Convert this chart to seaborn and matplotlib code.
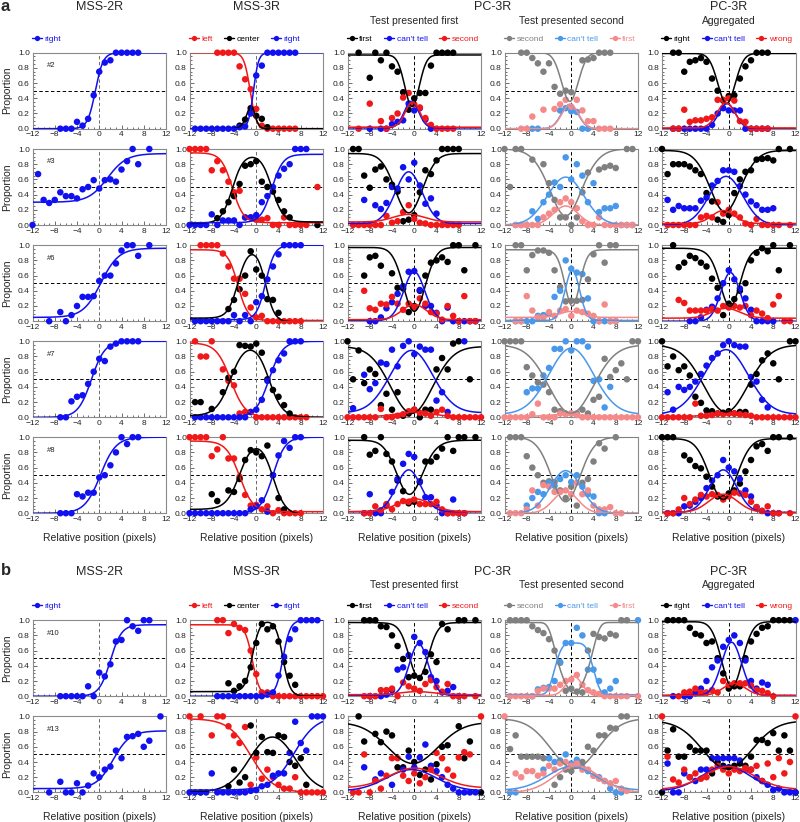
import numpy as np
import pandas as pd
import matplotlib
matplotlib.use("Agg")
import matplotlib.pyplot as plt
import seaborn as sns
from matplotlib.lines import Line2D
from matplotlib.ticker import MultipleLocator, FormatStrFormatter

sns.set_theme(style="white", context="paper")
plt.rcParams['font.family'] = ['Liberation Sans', 'DejaVu Sans']

# ---------------- column definitions ----------------
COL_LABELS = [["right"], ["left", "center", "right"], ["first", "can't tell", "second"],
              ["second", "can't tell", "first"], ["right", "can't tell", "wrong"]]
TITLES = ["MSS-2R", "MSS-3R", "PC-3R", "PC-3R"]
SUBTITLES = ["Test presented first", "Test presented second", "Aggregated"]
SUBJECTS = ["#2", "#3", "#6", "#7", "#8", "#10", "#13"]

# ---------------- data: subject #2 ----------------
S2_MSS2R = {"right": [(-7,0),(-6,0),(-5,0),(-4,.09),(-3,.04),(-2,.13),(-1,.44),(0,.75),(1,.87),(2,.9),(3,1),(4,1),(5,1),(6,1),(7,1)]}
F2_MSS2R = {"right": ("sig", -0.7, 0.7, 0.0, 1.0)}
S2_MSS3R = {"left": [(-7,1),(-6,1),(-5,1),(-4,1),(-3,.82),(-2,.65),(-1,.52),(0,.26),(1,.04),(2,0),(3,0),(4,0),(5,0),(6,0),(7,0)],
            "center": [(-3,.04),(-2,.12),(-1,.27),(0,.17),(1,.13),(2,.02)],
            "right": [(-11,0),(-10,0),(-9,0),(-8,0),(-7,0),(-6,0),(-5,0),(-4,0),(-3,.02),(-2,.03),(-1,.2),(0,.7),(1,.83),(2,1),(3,1),(4,1),(5,1),(6,1),(7,1)]}
F2_MSS3R = {"left": ("sig", -1.1, 0.55, 1.0, 0.0), "right": ("sig", -0.5, 0.45, 0.0, 1.0), "center": ("rest",)}
S2_PCF = {"first": [(-10,1),(-8,.67),(-7,1),(-6,.9),(-5,1),(-4,.82),(-3,.75),(-2,.48),(-1,.25),(0,.4),(1,.47),(2,.47),(3,.83),(4,1),(5,1),(6,1),(7,1)],
          "can't tell": [(-8,0),(-6,0),(-5,0),(-4,.06),(-3,.09),(-2,.11),(-1,.33),(0,.24),(1,.27),(2,.12),(3,0)],
          "second": [(-10,0),(-8,.33),(-6,.1),(-5,0),(-4,.14),(-3,.2),(-2,.41),(-1,.47),(0,.32),(1,.28),(2,.14),(3,.05),(4,0),(5,0),(6,0),(7,0)]}
F2_PCF = {"can't tell": ("bump", -0.5, 1.3, 0.35, 0.01), "second": ("bump", -0.3, 1.3, 0.33, 0.02), "first": ("rest",)}
S2_PCS = {"second": [(-9,1),(-8,1),(-7,.93),(-6,.86),(-5,.75),(-4,.86),(-3,.55),(-2,.46),(-1,.5),(0,.48),(2,.9),(3,.91),(4,.93),(5,1),(6,1),(7,1)],
          "can't tell": [(-7,0),(-6,0),(-2,.24),(-1,.27),(0,.23),(1,.22),(2,0),(3,0)],
          "first": [(-9,0),(-8,0),(-7,.16),(-5,.25),(-3,.26),(-2,.32),(-1,.38),(0,.29),(1,.38),(2,.24),(3,.1),(4,.1),(5,0),(6,0),(7,0)]}
F2_PCS = {"can't tell": ("bump", -0.3, 1.5, 0.32, 0.0), "first": ("bump", -0.2, 1.5, 0.32, 0.0), "second": ("rest",)}
S2_AGG = {"right": [(-10,1),(-9,1),(-8,.75),(-7,.88),(-6,.9),(-5,.93),(-4,.88),(-3,.66),(-2,.5),(-1,.37),(0,.43),(1,.44),(2,.66),(3,.82),(4,.9),(5,1),(6,1),(7,1)],
          "can't tell": [(-10,0),(-9,0),(-8,0),(-7,0),(-6,0),(-5,0),(-4,0),(-3,.05),(-2,.2),(-1,.27),(0,.24),(1,.24),(2,.24),(3,0),(4,0),(5,0),(6,0),(7,0)],
          "wrong": [(-10,0),(-9,0),(-8,.25),(-7,.09),(-6,.11),(-5,.11),(-4,.13),(-3,.15),(-2,.38),(-1,.38),(0,.4),(1,.37),(2,.1),(3,.09),(4,0),(5,0),(6,0),(7,0)]}
F2_AGG = {"can't tell": ("bump", -0.3, 1.5, 0.33, 0.0), "wrong": ("bump", -0.5, 1.6, 0.33, 0.01), "right": ("rest",)}

# ---------------- data: subject #3 ----------------
S3_MSS2R = {"right": [(-12,0),(-11,.67),(-10,.33),(-9,.29),(-8,.33),(-7,.43),(-6,.38),(-5,.38),(-4,.35),(-3,.47),(-2,.5),(-1,.59),(0,.48),(1,.59),(2,.6),(3,.57),(4,.73),(5,.84),(6,1),(7,.8),(9,1)]}
F3_MSS2R = {"right": ("sig", 1.5, 1.7, 0.3, 0.94)}
S3_MSS3R = {"left": [(-12,1),(-11,1),(-10,1),(-9,1),(-8,.72),(-7,.84),(-6,.72),(-5,.57),(-4,.43),(-3,.45),(-2,.1),(-1,.1),(0,.07),(1,.07),(2,.09),(3,0),(4,0),(5,.1),(6,0),(7,0),(8,0),(9,0),(11,.5)],
            "center": [(-7,.09),(-6,.18),(-5,.3),(-4,.38),(-3,.54),(-2,.78),(-1,.8),(0,.84),(1,.57),(2,.5),(3,.44),(4,.33),(5,.18),(6,.1),(11,0)],
            "right": [(-12,0),(-11,0),(-10,0),(-9,0),(-8,.14),(-7,0),(-6,.06),(-5,.06),(-4,.06),(-3,0),(-2,.1),(-1,.1),(0,.13),(1,.3),(2,.38),(3,.5),(4,.65),(5,.74),(6,.8),(7,1),(8,1),(9,1)]}
F3_MSS3R = {"left": ("sig", -4.3, 1.0, 0.95, 0.03), "right": ("sig", 2.8, 1.0, 0.03, 0.93), "center": ("rest",)}
S3_PCF = {"first": [(-11,1),(-10,1),(-9,.65),(-8,.49),(-7,.73),(-6,.77),(-5,.6),(-4,.53),(-3,.44),(-2,.05),(-1,.07),(0,.13),(1,.43),(2,.72),(3,.67),(4,.85),(5,1),(6,1),(7,1),(8,1)],
          "can't tell": [(-9,.33),(-7,.26),(-6,.21),(-5,.29),(-4,.5),(-3,.48),(-2,.76),(-1,.6),(0,.82),(1,.52),(2,.28),(3,.35),(4,.15)],
          "second": [(-11,0),(-10,0),(-9,0),(-8,0),(-7,0),(-6,0),(-5,.12),(-4,.03),(-3,.05),(-2,.17),(-1,.26),(0,.08),(1,.03),(2,.02),(3,0),(4,0),(5,0),(6,0),(7,0),(8,0)]}
F3_PCF = {"can't tell": ("bump", -1.0, 2.4, 0.68, 0.02), "second": ("bump", -1.0, 2.8, 0.1, 0.04), "first": ("rest",)}
S3_PCS = {"second": [(-12,1),(-11,.5),(-10,1),(-9,1),(-7,.86),(-5,.8),(-4,.55),(-3,.33),(-2,.1),(-1,.1),(0,0),(1,.1),(2,.43),(3,.69),(5,.73),(6,.76),(7,.78),(8,.75),(10,1),(11,1)],
          "can't tell": [(-10,0),(-9,0),(-8,0),(-7,.18),(-6,.08),(-5,.3),(-4,.4),(-3,.56),(-2,.5),(-1,.89),(0,.6),(1,.8),(2,.65),(3,.3),(4,.55),(5,.17),(6,.22),(7,.22),(8,.25),(9,0),(10,0),(11,0)],
          "first": [(-10,0),(-9,0),(-8,0),(-7,0),(-6,0),(-5,.1),(-4,.15),(-3,.2),(-2,.3),(-1,.35),(0,.3),(1,.22),(2,.05),(3,0),(4,0),(5,.1),(6,0),(7,0),(8,0),(9,0),(10,0),(11,0)]}
F3_PCS = {"can't tell": ("bump", -1.0, 3.3, 0.63, 0.0), "first": ("bump", -1.0, 2.2, 0.25, 0.0), "second": ("rest",)}
S3_AGG = {"right": [(-12,1),(-11,.67),(-10,.8),(-9,.8),(-8,.8),(-7,.77),(-6,.72),(-5,.67),(-4,.42),(-3,.31),(-2,.07),(-1,.04),(0,.13),(1,.42),(2,.6),(3,.7),(4,.72),(5,.86),(6,.87),(7,.88),(8,.85),(9,1),(11,1)],
          "can't tell": [(-11,.33),(-10,.2),(-9,.25),(-8,.22),(-7,.22),(-6,.22),(-5,.32),(-4,.36),(-3,.52),(-2,.58),(-1,.72),(0,.72),(1,.7),(2,.51),(3,.4),(4,.31),(5,.26),(6,.2),(7,.2),(8,.22)],
          "wrong": [(-11,0),(-10,0),(-9,0),(-8,0),(-7,0),(-6,0),(-5,.1),(-4,.12),(-3,.1),(-2,.3),(-1,.15),(0,.2),(1,.15),(2,.1),(3,.02),(4,0),(5,.08),(6,0),(7,0),(8,0),(9,0),(11,0)]}
F3_AGG = {"can't tell": ("bump", -0.5, 3.0, 0.64, 0.0), "wrong": ("bump", -1.0, 2.0, 0.17, 0.02), "right": ("rest",)}

# ---------------- data: subject #6 ----------------
S6_MSS2R = {"right": [(-9,0),(-7,.12),(-6,0),(-5,.08),(-4,.2),(-3,.32),(-2,.32),(-1,.33),(0,.53),(1,.6),(2,.6),(3,.76),(4,.93),(5,1),(6,1),(7,.86),(9,1)]}
F6_MSS2R = {"right": ("sig", 0.3, 1.6, 0.05, 0.96)}
S6_MSS3R = {"left": [(-10,1),(-9,1),(-8,1),(-7,1),(-6,.89),(-5,.72),(-4,.56),(-3,.56),(-2,.36),(-1,.18),(0,.05),(1,.07),(2,0),(3,0),(4,0),(5,0),(6,0),(7,0),(8,0)],
            "center": [(-5,.16),(-4,.28),(-3,.42),(-2,.6),(-1,.92),(0,.68),(1,.6),(2,.29),(3,.28),(4,.11)],
            "right": [(-11,0),(-10,0),(-9,0),(-8,0),(-7,0),(-6,0),(-5,0),(-4,.08),(-3,0),(-2,.08),(-1,0),(0,.25),(1,.33),(2,.55),(3,.72),(4,.88),(5,1),(6,1),(7,1),(8,1)]}
F6_MSS3R = {"left": ("sig", -3.3, 0.9, 0.94, 0.01), "right": ("sig", 1.7, 0.8, 0.02, 1.0), "center": ("rest",)}
S6_PCF = {"first": [(-9,.6),(-8,.84),(-7,.86),(-6,.73),(-4,.63),(-3,.44),(-2,.43),(-1,.12),(0,.2),(1,.4),(2,.6),(3,.77),(4,.8),(5,.84),(6,.78),(7,1),(8,1),(9,.67),(11,1)],
          "can't tell": [(-8,0),(-7,0),(-6,.05),(-5,.17),(-4,.25),(-3,.36),(-2,.46),(-1,.65),(0,.66),(1,.41),(2,.2),(3,.2),(4,.11),(5,0),(6,.18),(7,0),(8,0),(9,0),(10,0),(11,0)],
          "second": [(-9,.4),(-8,.17),(-7,.15),(-6,.23),(-5,.22),(-4,.32),(-3,.23),(-2,.15),(-1,.23),(0,.18),(1,.3),(2,.23),(3,.12),(4,.1),(5,.02),(6,.2),(7,.07),(8,0),(9,.33),(10,0),(11,0)]}
F6_PCF = {"can't tell": ("bump", 0.0, 1.9, 0.64, 0.01), "second": ("bump", 0.0, 2.2, 0.2, 0.02), "first": ("rest",)}
S6_PCS = {"second": [(-10,1),(-9,1),(-8,.67),(-7,.87),(-6,.93),(-5,.93),(-4,.9),(-3,.67),(-2,.45),(-1,.26),(0,.27),(1,.27),(2,.28),(3,.55),(4,.88),(5,1),(6,.77),(7,1),(8,1)],
          "can't tell": [(-10,0),(-9,0),(-8,0),(-7,0),(-6,.07),(-5,.08),(-4,.1),(-3,.32),(-2,.4),(-1,.8),(0,.69),(1,.64),(2,.62),(3,.3),(4,0),(5,0),(6,0),(7,0),(8,0)],
          "first": [(-10,0),(-9,0),(-8,.33),(-7,.14),(-6,.05),(-5,.05),(-4,.12),(-3,.07),(-2,.14),(-1,.16),(0,.07),(1,.14),(2,.12),(3,.1),(4,.07),(5,0),(6,.22),(7,0),(8,0)]}
F6_PCS = {"can't tell": ("bump", 0.2, 1.3, 0.66, 0.01), "first": ("bump", 0.0, 2.0, 0.08, 0.05), "second": ("rest",)}
S6_AGG = {"right": [(-10,1),(-9,.71),(-8,.77),(-7,.86),(-6,.83),(-5,.77),(-4,.72),(-3,.56),(-2,.44),(-1,.08),(0,.23),(1,.29),(2,.4),(3,.5),(4,.8),(5,.9),(6,.96),(7,.92),(8,1),(9,.67),(11,1)],
          "can't tell": [(-7,0),(-6,0),(-5,.05),(-4,.15),(-3,.19),(-2,.3),(-1,.5),(0,.67),(1,.55),(2,.43),(3,.3),(4,.15),(5,0),(6,0),(7,0),(8,0)],
          "wrong": [(-9,.28),(-8,.24),(-7,.14),(-6,.14),(-5,.14),(-4,.14),(-3,.16),(-2,.14),(-1,.2),(0,.18),(1,.2),(2,.18),(3,.2),(4,.08),(5,.14),(6,.1),(7,.04),(8,.22),(9,.33),(10,0),(11,0)]}
F6_AGG = {"can't tell": ("bump", 0.3, 1.7, 0.64, 0.0), "wrong": ("bump", -0.5, 2.5, 0.13, 0.04), "right": ("rest",)}

# ---------------- data: subject #7 ----------------
S7_MSS2R = {"right": [(-7,0),(-6,0),(-5,.21),(-4,.27),(-3,.29),(-2,.44),(-1,.6),(0,.77),(1,.74),(2,.93),(3,.97),(4,1),(5,1),(6,1),(7,1)]}
F7_MSS2R = {"right": ("sig", -1.4, 1.2, 0.0, 1.0)}
S7_MSS3R = {"left": [(-11,1),(-10,.8),(-9,.8),(-8,1),(-6,.63),(-5,.48),(-4,.42),(-3,.05),(-2,.07),(-1,.07),(0,0),(1,0),(2,0),(3,0),(4,0),(5,0),(6,0),(7,0),(8,0),(9,0)],
            "center": [(-11,.2),(-10,.2),(-8,.11),(-6,.33),(-5,.52),(-4,.6),(-3,.95),(-2,.94),(-1,.93),(0,.97),(1,.85),(2,.5),(3,.36),(4,.27),(5,.16),(6,.05)],
            "right": [(-11,0),(-10,0),(-9,0),(-8,0),(-7,0),(-6,0),(-5,0),(-4,0),(-3,0),(-2,0),(-1,.07),(0,.1),(1,.23),(2,.48),(3,.62),(4,.75),(5,.84),(6,1),(7,1),(8,1)]}
F7_MSS3R = {"left": ("sig", -4.6, 1.3, 0.98, 0.0), "right": ("sig", 2.3, 1.2, 0.0, 1.0), "center": ("rest",)}
S7_PCF = {"first": [(-12,1),(-11,.5),(-10,.88),(-9,.45),(-8,.63),(-7,.57),(-6,.16),(-5,.31),(-4,.1),(-3,.33),(-2,.02),(-1,.05),(0,.1),(1,0),(2,.1),(3,.1),(4,.63),(5,.78),(6,.63),(7,.97),(8,1),(10,.5)],
          "can't tell": [(-11,.12),(-9,.56),(-8,.37),(-7,.45),(-6,.72),(-5,.7),(-4,.89),(-3,.67),(-2,.94),(-1,1),(0,.83),(1,.93),(2,.89),(3,.89),(4,.22),(5,.33),(6,.07),(9,1)],
          "second": [(-12,0),(-11,0),(-10,0),(-9,0),(-8,0),(-7,0),(-6,.11),(-5,0),(-4,0),(-3,.02),(-2,.04),(-1,.08),(0,.1),(1,.06),(2,.05),(3,.02),(4,.07),(5,.1),(6,.02),(7,0),(8,0),(9,0),(10,0),(11,0),(12,0)]}
F7_PCF = {"can't tell": ("bump", -0.5, 3.8, 0.82, 0.06), "second": ("bump", 0.0, 3.0, 0.06, 0.01), "first": ("rest",)}
S7_PCS = {"second": [(-12,1),(-11,1),(-10,1),(-9,1),(-8,.66),(-7,.55),(-6,.46),(-5,.43),(-4,.33),(-3,.1),(-2,.08),(-1,.05),(0,.05),(1,.05),(2,.1),(3,.05),(4,.23),(5,.27),(6,.77),(7,.53),(8,.62),(9,.71),(10,.5),(11,1),(12,1)],
          "can't tell": [(-8,.33),(-7,.38),(-6,.38),(-5,.55),(-4,.65),(-3,.9),(-2,.9),(-1,1),(0,.88),(1,1),(2,1),(3,.93),(4,.48),(5,.5),(6,.13),(7,.4)],
          "first": [(-12,0),(-11,0),(-10,0),(-9,0),(-8,0),(-7,.04),(-6,.18),(-5,0),(-4,0),(-3,0),(-2,.05),(-1,.04),(0,.05),(1,.03),(2,0),(3,0),(4,0),(5,0),(6,0),(7,0),(8,0),(9,0),(10,0),(11,0),(12,0)]}
F7_PCS = {"can't tell": ("bump", 0.0, 4.0, 0.87, 0.04), "first": ("bump", -1.0, 3.0, 0.03, 0.01), "second": ("rest",)}
S7_AGG = {"right": [(-12,1),(-11,.67),(-10,.8),(-9,.62),(-8,.67),(-7,.55),(-6,.27),(-5,.19),(-4,.09),(-3,.08),(-2,.05),(-1,.06),(0,.08),(1,.05),(2,.07),(3,.07),(4,.43),(5,.57),(6,.75),(7,.84),(8,.71),(9,.5),(11,1),(12,1)],
          "can't tell": [(-11,.33),(-10,.1),(-9,.4),(-8,.36),(-7,.4),(-6,.47),(-5,.57),(-4,.68),(-3,.78),(-2,.84),(-1,.95),(0,1),(1,.95),(2,.93),(3,.93),(4,.53),(5,.47),(6,.23),(7,.13)],
          "wrong": [(-12,0),(-11,0),(-10,0),(-9,0),(-8,0),(-7,0),(-6,.18),(-5,.02),(-4,.02),(-3,.03),(-2,.05),(-1,.04),(0,.05),(1,.05),(2,.04),(3,.03),(4,.02),(5,0),(6,0),(7,0),(8,0),(9,0),(10,0),(11,0),(12,0)]}
F7_AGG = {"can't tell": ("bump", -0.5, 4.0, 0.85, 0.04), "wrong": ("bump", -1.0, 3.0, 0.03, 0.01), "right": ("rest",)}

# ---------------- data: subject #8 ----------------
S8_MSS2R = {"right": [(-7,0),(-6,0),(-5,0),(-4,.25),(-3,.22),(-2,.27),(-1,.27),(0,.47),(1,.5),(2,.63),(3,.8),(4,1),(5,.91),(6,1),(7,1)]}
F8_MSS2R = {"right": ("sig", 0.2, 1.4, 0.0, 1.0)}
S8_MSS3R = {"left": [(-12,1),(-11,1),(-10,1),(-9,1),(-8,.75),(-7,.84),(-6,1),(-5,.72),(-4,.72),(-3,.48),(-2,.24),(-1,.1),(0,.11),(1,.05),(2,.09),(3,0),(4,.04),(5,0),(6,0),(7,0),(8,0)],
            "center": [(-8,.25),(-7,.16),(-5,.3),(-4,.28),(-3,.45),(-2,.7),(-1,.83),(0,.8),(1,.75),(2,.89),(3,.5),(4,.2),(5,.05)],
            "right": [(-12,0),(-11,0),(-10,0),(-9,0),(-8,0),(-7,0),(-6,0),(-5,0),(-4,0),(-3,0),(-2,0),(-1,.05),(0,.09),(1,.17),(2,.02),(3,.5),(4,.76),(5,.95),(6,.86),(7,1),(8,1)]}
F8_MSS3R = {"left": ("sig", -3.0, 1.2, 0.95, 0.02), "right": ("sig", 3.0, 1.1, 0.0, 1.0), "center": ("rest",)}
S8_PCF = {"first": [(-9,1),(-8,.77),(-7,.82),(-6,1),(-5,.78),(-4,.68),(-3,.43),(-2,.29),(-1,.13),(0,.15),(1,.41),(2,.68),(3,.68),(4,.74),(5,.85),(6,1),(7,.82),(8,1),(9,1),(11,1)],
          "can't tell": [(-9,0),(-8,.25),(-7,0),(-6,0),(-5,.1),(-4,.28),(-3,.45),(-2,.65),(-1,.78),(0,.74),(1,.42),(2,.21),(3,.21),(4,.1),(5,0),(6,0),(7,.18),(8,0),(9,0)],
          "second": [(-9,0),(-8,0),(-7,.09),(-6,.04),(-5,.12),(-4,.05),(-3,.12),(-2,.16),(-1,.15),(0,.18),(1,.12),(2,.12),(3,.12),(4,.15),(5,.05),(6,0),(7,0),(8,0),(9,0)]}
F8_PCF = {"can't tell": ("bump", -1.0, 2.2, 0.55, 0.02), "second": ("bump", 0.0, 3.0, 0.17, 0.02), "first": ("rest",)}
S8_PCS = {"second": [(-11,1),(-10,1),(-9,1),(-8,.75),(-7,.6),(-6,.5),(-5,.4),(-4,.42),(-3,.41),(-2,.3),(-1,.2),(0,.35),(1,.1),(2,.4),(3,.45),(4,.68),(5,.92),(6,.85),(8,1)],
          "can't tell": [(-8,.1),(-7,.2),(-6,.28),(-5,.25),(-4,.4),(-3,.36),(-2,.45),(-1,.5),(0,.41),(1,.5),(2,.35),(3,.25),(4,.22),(5,0),(6,0)],
          "first": [(-11,0),(-10,0),(-9,0),(-8,.05),(-7,.3),(-6,.1),(-5,.37),(-4,.35),(-3,.28),(-2,.28),(-1,.3),(0,.25),(1,.4),(2,.25),(3,.3),(4,.1),(5,.05),(6,.05),(7,.08),(8,0),(9,0)]}
F8_PCS = {"can't tell": ("bump", -1.0, 2.8, 0.56, 0.0), "first": ("bump", -1.0, 2.2, 0.29, 0.0), "second": ("rest",)}
S8_AGG = {"right": [(-12,1),(-11,1),(-10,1),(-8,.76),(-7,.7),(-6,.62),(-5,.59),(-4,.48),(-3,.35),(-2,.22),(-1,.2),(0,.26),(1,.3),(2,.39),(3,.55),(4,.7),(5,.88),(6,.91),(7,.82),(8,1),(9,1),(11,1)],
          "can't tell": [(-11,0),(-10,0),(-9,0),(-8,.09),(-7,.1),(-6,.15),(-5,.2),(-4,.33),(-3,.43),(-2,.5),(-1,.7),(0,.6),(1,.55),(2,.45),(3,.3),(4,.22),(5,.08),(6,.03),(7,0),(8,0),(9,0)],
          "wrong": [(-11,0),(-10,0),(-9,.05),(-8,.2),(-7,.12),(-6,.18),(-5,.24),(-4,.22),(-3,.25),(-2,.24),(-1,.18),(0,.22),(1,.27),(2,.26),(3,.24),(4,.15),(5,.08),(6,.03),(7,.09),(8,0),(9,0),(11,0)]}
F8_AGG = {"can't tell": ("bump", -1.0, 2.4, 0.56, 0.01), "wrong": ("bump", -1.0, 2.6, 0.24, 0.01), "right": ("rest",)}

# ---------------- data: subject #10 ----------------
S10_MSS2R = {"right": [(-7,0),(-6,0),(-5,0),(-4,0),(-3,0),(-2,.13),(-1,0),(0,.31),(1,.26),(2,.42),(3,.72),(4,.74),(5,1),(6,.92),(7,.86),(8,1),(9,1)]}
F10_MSS2R = {"right": ("sig", 2.0, 1.0, 0.0, 0.94)}
S10_MSS3R = {"left": [(-7,1),(-6,1),(-5,.83),(-4,.95),(-3,.9),(-2,.87),(-1,.6),(0,.29),(1,.05),(2,.05),(3,0),(4,0),(5,0),(6,0),(7,0),(8,0),(9,0),(10,0),(11,0),(12,0)],
             "center": [(-5,.17),(-4,.07),(-3,.13),(-2,.2),(-1,.38),(0,.7),(1,.95),(2,.88),(3,.92),(4,.72),(5,.45),(6,.27),(7,.15)],
             "right": [(-7,0),(-6,0),(-5,0),(-4,0),(-3,0),(-2,0),(-1,0),(0,0),(1,0),(2,.02),(3,.05),(4,.27),(5,.52),(6,.75),(7,.88),(8,1),(9,1),(10,1),(11,1)]}
F10_MSS3R = {"left": ("sig", -0.7, 0.65, 0.94, 0.0), "right": ("sig", 4.8, 0.65, 0.0, 1.0), "center": ("rest",)}
S10_PCF = {"first": [(-9,1),(-8,1),(-7,1),(-6,.92),(-5,.91),(-4,.8),(-3,.66),(-2,.49),(-1,.25),(0,.27),(1,.24),(2,.32),(3,.55),(4,.45),(5,.95),(6,.88),(8,1),(9,1),(11,1)],
           "can't tell": [(-8,0),(-6,0),(-5,.02),(-4,.08),(-3,.35),(-2,.38),(-1,.54),(0,.78),(1,.7),(2,.58),(3,.25),(4,.2),(5,.05),(6,.07),(7,.12),(8,0)],
           "second": [(-9,0),(-8,0),(-7,0),(-6,.08),(-5,.08),(-4,.1),(-3,0),(-2,.18),(-1,.13),(0,.1),(1,.07),(2,.16),(3,.21),(4,.12),(5,.06),(6,.16),(7,0),(8,0),(9,0),(11,0)]}
F10_PCF = {"can't tell": ("bump", 0.8, 1.7, 0.68, 0.01), "second": ("bump", 0.5, 3.0, 0.04, 0.02), "first": ("rest",)}
S10_PCS = {"second": [(-11,1),(-10,1),(-9,1),(-8,1),(-7,.92),(-6,.87),(-5,.83),(-4,.75),(-3,.6),(-2,.44),(-1,.07),(0,.1),(1,.06),(2,.05),(3,.6),(4,.82),(5,.78),(6,.76),(7,.82),(8,.8),(9,1),(10,1)],
           "can't tell": [(-7,0),(-6,.09),(-5,.11),(-4,.12),(-3,.2),(-2,.45),(-1,.7),(0,.7),(1,.9),(2,.8),(3,.35),(4,.35),(5,.2),(6,.05),(7,.1),(8,.2),(12,1)],
           "first": [(-11,0),(-10,0),(-9,0),(-8,0),(-7,0),(-6,.07),(-5,.1),(-4,.1),(-3,.1),(-2,.15),(-1,.2),(0,.22),(1,.28),(2,.15),(3,.08),(4,.05),(5,.03),(6,0),(7,0),(8,0),(9,0),(10,0),(12,0)]}
F10_PCS = {"can't tell": ("bump", 0.5, 3.2, 0.68, 0.02, 4), "first": ("bump", 0.5, 1.4, 0.25, 0.01), "second": ("rest",)}
S10_AGG = {"right": [(-11,1),(-10,1),(-9,1),(-8,1),(-7,.9),(-6,.82),(-5,.8),(-4,.7),(-3,.72),(-2,.5),(-1,.3),(0,.1),(1,.13),(2,.13),(3,.5),(4,.72),(5,.82),(6,.9),(7,.92),(8,1),(9,1),(10,1),(11,1)],
           "can't tell": [(-10,0),(-8,0),(-7,0),(-6,.04),(-5,.1),(-4,.2),(-3,.38),(-2,.47),(-1,.65),(0,.74),(1,.8),(2,.7),(3,.47),(4,.2),(5,.1),(6,.18),(7,.15),(12,1)],
           "wrong": [(-9,0),(-8,.05),(-7,.06),(-6,.1),(-5,.05),(-4,.05),(-3,.08),(-2,.05),(-1,.2),(0,.15),(1,.17),(2,.17),(3,.17),(4,.14),(5,.08),(6,.07),(7,.04),(8,0)]}
F10_AGG = {"can't tell": ("bump", 0.5, 1.8, 0.7, 0.01), "wrong": ("bump", 1.0, 2.0, 0.16, 0.01), "right": ("rest",)}

# ---------------- data: subject #13 ----------------
S13_MSS2R = {"right": [(-9,0),(-7,.14),(-6,0),(-5,0),(-4,.12),(-3,0),(-2,.09),(-1,.25),(0,.2),(1,.3),(2,.34),(3,.55),(4,.45),(5,.73),(6,.74),(7,.77),(8,.6),(9,.68),(11,1)]}
F13_MSS2R = {"right": ("sig", 2.5, 1.5, 0.05, 0.81)}
S13_MSS3R = {"left": [(-12,1),(-10,1),(-8,.75),(-7,1),(-6,1),(-5,.87),(-4,.75),(-3,.65),(-2,.86),(-1,.1),(0,.46),(1,.18),(2,.3),(3,.2),(4,.1),(5,.05),(6,.05),(7,.2),(8,0),(9,0),(10,0),(11,0),(12,0)],
             "center": [(-10,0),(-5,.08),(-4,.3),(-3,.13),(-2,.2),(-1,.88),(0,.52),(1,.73),(2,.53),(3,.52),(4,.75),(5,.73),(6,.4),(7,.35),(8,.45),(9,.1)],
             "right": [(-12,0),(-11,0),(-10,0),(-9,0),(-8,.25),(-7,0),(-6,0),(-5,0),(-4,0),(-3,0),(-2,0),(-1,.02),(0,.03),(1,.08),(2,.1),(3,.22),(4,.25),(5,.25),(6,.52),(7,.93),(8,.65),(9,.55),(10,1),(11,1),(12,1)]}
F13_MSS3R = {"left": ("sig", -1.0, 2.0, 0.97, 0.0), "right": ("sig", 6.8, 2.0, 0.03, 1.0), "center": ("rest",)}
S13_PCF = {"first": [(-10,1),(-9,.67),(-7,.77),(-6,.66),(-5,.8),(-4,.75),(-3,.33),(-2,.33),(-1,.55),(0,.4),(1,.23),(2,.3),(3,.17),(4,.37),(5,.6),(6,.62),(8,.87),(9,.45),(10,.67),(12,0)],
           "can't tell": [(-9,.33),(-7,.17),(-6,.25),(-4,.1),(-2,.3),(-1,.47),(0,.33),(1,.46),(2,.63),(3,.35),(4,.28),(5,.2),(6,.1),(7,.05),(8,0),(9,0),(10,0),(11,0)],
           "second": [(-11,0),(-10,0),(-9,.5),(-8,0),(-7,.15),(-6,.05),(-5,.22),(-4,.45),(-3,.45),(-2,.22),(-1,.15),(0,.25),(1,.12),(2,.2),(3,.3),(4,.52),(5,.45),(6,.3),(7,.22),(8,.46),(9,.53),(10,.5),(12,1)]}
F13_PCF = {"can't tell": ("bump", -0.5, 4.5, 0.28, 0.02), "second": ("bump", 0.0, 4.5, 0.26, 0.06), "first": ("rest",)}
S13_PCS = {"second": [(-11,.57),(-10,.75),(-9,.47),(-8,.47),(-7,.47),(-6,.47),(-5,.45),(-4,.45),(-3,.1),(-2,.2),(-1,.3),(0,.28),(1,.35),(2,.4),(3,.6),(4,.55),(5,.75),(6,.75),(7,.85),(8,.84),(9,1),(10,1)],
           "can't tell": [(-11,0),(-10,0),(-5,.3),(-4,.45),(-3,.4),(-2,.42),(-1,.5),(0,.38),(1,.43),(2,.33),(3,.28),(4,.22),(5,.2),(6,.15),(7,.05),(8,0),(9,0)],
           "first": [(-12,1),(-10,.25),(-9,.2),(-8,.28),(-7,.28),(-6,.22),(-5,.25),(-4,.35),(-3,.3),(-2,.38),(-1,.4),(0,.35),(1,.38),(2,.3),(3,.3),(4,.22),(5,.18),(6,.15),(7,.12),(8,.15),(9,.05),(10,.02)]}
F13_PCS = {"can't tell": ("bump", 0.0, 4.3, 0.31, 0.03), "first": ("bump", 1.0, 4.0, 0.35, 0.0), "second": ("rest",)}
S13_AGG = {"right": [(-12,0),(-11,.55),(-10,.83),(-9,.47),(-8,.47),(-7,.6),(-6,.55),(-5,.55),(-4,.55),(-3,.25),(-2,.4),(-1,.35),(0,.33),(1,.35),(2,.38),(3,.35),(4,.47),(5,.69),(6,.69),(7,.65),(8,.78),(9,.55),(10,.75),(11,.55),(12,0)],
           "can't tell": [(-11,.38),(-10,0),(-9,0),(-8,.25),(-7,.2),(-6,.15),(-5,.3),(-4,.3),(-3,.45),(-2,.45),(-1,.45),(0,.45),(1,.45),(2,.42),(3,.3),(4,.3),(5,.2),(6,.15),(7,.1),(8,.03),(9,.05),(10,0),(11,0),(12,0)],
           "wrong": [(-12,1),(-11,.47),(-10,.17),(-9,.13),(-8,.3),(-7,.2),(-6,.25),(-5,.18),(-4,.2),(-3,.3),(-2,.35),(-1,.3),(0,.25),(1,.3),(2,.28),(3,.32),(4,.3),(5,.35),(6,.15),(7,.38),(8,.2),(9,.45),(10,.25),(11,.4),(12,1)]}
F13_AGG = {"can't tell": ("bump", -0.5, 4.3, 0.33, 0.02), "wrong": ("bump", 0.0, 4.5, 0.3, 0.04), "right": ("rest",)}

ROW_DATA = [
    [S2_MSS2R, S2_MSS3R, S2_PCF, S2_PCS, S2_AGG],
    [S3_MSS2R, S3_MSS3R, S3_PCF, S3_PCS, S3_AGG],
    [S6_MSS2R, S6_MSS3R, S6_PCF, S6_PCS, S6_AGG],
    [S7_MSS2R, S7_MSS3R, S7_PCF, S7_PCS, S7_AGG],
    [S8_MSS2R, S8_MSS3R, S8_PCF, S8_PCS, S8_AGG],
    [S10_MSS2R, S10_MSS3R, S10_PCF, S10_PCS, S10_AGG],
    [S13_MSS2R, S13_MSS3R, S13_PCF, S13_PCS, S13_AGG],
]
ROW_FITS = [
    [F2_MSS2R, F2_MSS3R, F2_PCF, F2_PCS, F2_AGG],
    [F3_MSS2R, F3_MSS3R, F3_PCF, F3_PCS, F3_AGG],
    [F6_MSS2R, F6_MSS3R, F6_PCF, F6_PCS, F6_AGG],
    [F7_MSS2R, F7_MSS3R, F7_PCF, F7_PCS, F7_AGG],
    [F8_MSS2R, F8_MSS3R, F8_PCF, F8_PCS, F8_AGG],
    [F10_MSS2R, F10_MSS3R, F10_PCF, F10_PCS, F10_AGG],
    [F13_MSS2R, F13_MSS3R, F13_PCF, F13_PCS, F13_AGG],
]

# ---------------- styling ----------------
BLUE, RED, BLACK = "#1010f0", "#f01818", "#000000"
GRAY, LBLUE, PINK = "#808080", "#4a98ea", "#f48a8a"
COL_COLORS = [[BLUE], [RED, BLACK, BLUE], [BLACK, BLUE, RED], [GRAY, LBLUE, PINK], [BLACK, BLUE, RED]]

W, H = 800, 822
COL_L = [32.5, 189.5, 347.5, 504.5, 662.0]
AX_W = 133.5
ROW_T = [52.7, 149.0, 245.2, 341.3, 437.2, 620.2, 716.4]
AX_H = 76.0


def sig(xx, mu, s, a, b):
    return a + (b - a) / (1.0 + np.exp(-(xx - mu) / s))


def bump(xx, mu, s, amp, base, p=2):
    return base + amp * np.exp(-0.5 * np.abs((xx - mu) / s) ** p)


def eval_fits(fits, xx):
    out = {}
    for k, f in fits.items():
        if f[0] == "sig":
            out[k] = sig(xx, *f[1:])
        elif f[0] == "bump":
            out[k] = bump(xx, *f[1:])
    for k, f in fits.items():
        if f[0] == "rest":
            out[k] = 1.0 - sum(v for kk, v in out.items() if kk != k)
    return out


XX = np.linspace(-12, 12, 300)

fig = plt.figure(figsize=(W / 100, H / 100), dpi=100)


def fx(px):
    return px / W


def fy(py):
    return 1 - py / H


for r in range(7):
    for c in range(5):
        ax = fig.add_axes([fx(COL_L[c]), fy(ROW_T[r] + AX_H), AX_W / W, AX_H / H])
        data = ROW_DATA[r][c]
        curves = eval_fits(ROW_FITS[r][c], XX)
        ax.axhline(0.5, color="black", lw=0.7, ls=(0, (3.5, 2.5)), zorder=1)
        ax.axvline(0, color="#6a6a6a" if c < 2 else "black", lw=0.7, ls=(0, (3.5, 2.5)), zorder=1)
        for lab, col in zip(COL_LABELS[c], COL_COLORS[c]):
            df = pd.DataFrame(data[lab], columns=["x", "y"])
            sns.scatterplot(data=df, x="x", y="y", color=col, s=22, edgecolor="none",
                            linewidth=0, ax=ax, legend=False, clip_on=False, zorder=3)
        for lab, col in zip(COL_LABELS[c], COL_COLORS[c]):
            sns.lineplot(x=XX, y=curves[lab], color=col, lw=1.1, ax=ax, legend=False,
                         estimator=None, zorder=4)
        ax.set_xlim(-12, 12)
        ax.set_ylim(0, 1)
        ax.set_xlabel("")
        ax.set_ylabel("")
        ax.set_xticks([-12, -8, -4, 0, 4, 8, 12])
        ax.xaxis.set_minor_locator(MultipleLocator(1))
        ax.set_yticks([0, 0.2, 0.4, 0.6, 0.8, 1.0])
        ax.yaxis.set_minor_locator(MultipleLocator(0.05))
        ax.yaxis.set_major_formatter(FormatStrFormatter("%.1f"))
        ax.tick_params(which="both", direction="in", bottom=True, left=True, top=False, right=False,
                       colors="#555555", labelcolor="#222222", width=0.6)
        ax.tick_params(which="major", length=3, labelsize=6, pad=2)
        ax.tick_params(which="minor", length=1.6)
        for sp in ax.spines.values():
            sp.set_color("#8a8a8a")
            sp.set_linewidth(0.8)
        if c == 0:
            ax.text(-9.4, 0.83, SUBJECTS[r], fontsize=5.5, ha="left", va="center", color="#222222")
            fig.text(fx(7.5), fy(ROW_T[r] + AX_H / 2), "Proportion", rotation=90, fontsize=7.5,
                     ha="center", va="center", color="#222222")
        if r in (0, 5):
            handles = [Line2D([0], [0], color=col, marker="o", markersize=3.8, lw=1.0,
                              markeredgewidth=0) for col in COL_COLORS[c]]
            ax.legend(handles, COL_LABELS[c], loc="center left", bbox_to_anchor=(-0.005, 1 + 14.0 / AX_H),
                      ncol=3, frameon=False, fontsize=6, handlelength=1.2, handletextpad=0.3,
                      columnspacing=1.35, borderpad=0, borderaxespad=0, labelcolor=COL_COLORS[c])
        if r in (4, 6):
            fig.text(fx(COL_L[c] + AX_W / 2), fy(ROW_T[r] + AX_H + 24.5), "Relative position (pixels)",
                     fontsize=7.5, ha="center", va="center", color="#222222")

# ---------------- headers ----------------
for letter, ytop in (("a", 0.0), ("b", 564.0)):
    fig.text(fx(0.5), fy(ytop + 6.5), letter, fontsize=12, fontweight="bold", ha="left", va="center")
    yt = ytop + 7.5
    ys = ytop + 20.5
    fig.text(fx(COL_L[0] + AX_W / 2), fy(yt), TITLES[0], fontsize=9, ha="center", va="center")
    fig.text(fx(COL_L[1] + AX_W / 2), fy(yt), TITLES[1], fontsize=9, ha="center", va="center")
    fig.text(fx((COL_L[2] + COL_L[3] + AX_W) / 2), fy(yt), TITLES[2], fontsize=9, ha="center", va="center")
    fig.text(fx(COL_L[4] + AX_W / 2), fy(yt), TITLES[3], fontsize=9, ha="center", va="center")
    for k in range(3):
        fig.text(fx(COL_L[2 + k] + AX_W / 2), fy(ys), SUBTITLES[k], fontsize=7.5, ha="center", va="center")

fig.savefig("out.png", dpi=100)
